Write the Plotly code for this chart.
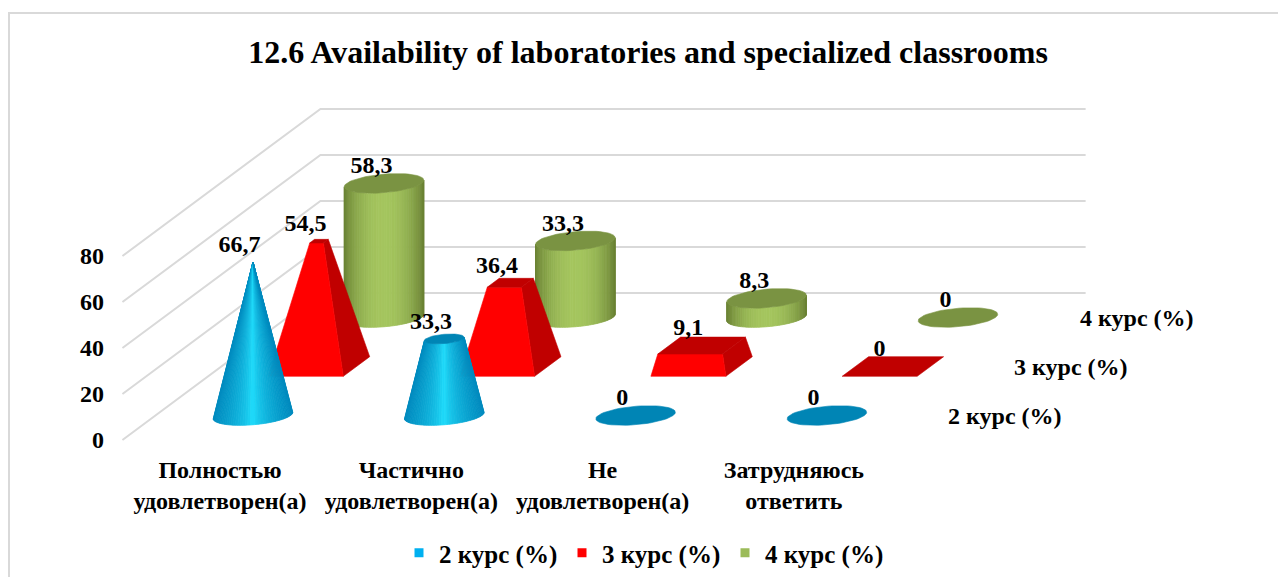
import math
import plotly.graph_objects as go

# ---------- data ----------
categories = ["Полностью<br>удовлетворен(а)", "Частично<br>удовлетворен(а)",
              "Не<br>удовлетворен(а)", "Затрудняюсь<br>ответить"]
series_names = ["2 курс (%)", "3 курс (%)", "4 курс (%)"]
course2 = [66.7, 33.3, 0, 0]
course3 = [54.5, 36.4, 9.1, 0]
course4 = [58.3, 33.3, 8.3, 0]
value_ticks = [0, 20, 40, 60, 80]

# ---------- styling / layout ----------
W, H = 1278, 577
FONT = "Liberation Serif"
GRID = "#d9d9d9"
LABEL_SIZE = 24
L, R, T, B = 120, 1240, 70, 452      # plot area in page pixels
PX_CAT = 191.3       # pixels per category
PX_VAL = 2.3         # pixels per value unit
X0, Y0 = 220, 440    # page pixel of category 0 / value 0
DEPTH_X = 66 / PX_CAT  # oblique depth shift per series, x axis units
DEPTH_Y = 49 / PX_VAL  # oblique depth shift per series, y axis units
BAR_W = 75 / PX_CAT / 2  # half width of a bar
BAR_D = 0.2              # half depth of a bar in series units
TAPER = max(course2 + course3 + course4)
WALL_D = 3.0
STRIPS = 48


def proj(cat, depth, val):
    return cat + depth * DEPTH_X, val + depth * DEPTH_Y


fig = go.Figure()


def poly(pts, color, lw=0.6):
    xs = [p[0] for p in pts] + [pts[0][0]]
    ys = [p[1] for p in pts] + [pts[0][1]]
    fig.add_trace(go.Scatter(x=xs, y=ys, mode="lines", fill="toself", fillcolor=color,
                             line=dict(color=color, width=lw), hoverinfo="skip", showlegend=False))


def mix(c1, c2, t):
    return "rgb(%d,%d,%d)" % tuple(round(a + (b - a) * t) for a, b in zip(c1, c2))


def ring(cat, depth, val, scale, t):
    return proj(cat + BAR_W * scale * math.cos(t), depth + BAR_D * scale * math.sin(t), val)


def round_body(cat, depth, val, taper, edge, mid, top, gamma):
    sc = 1 - val / taper if taper else 1
    # silhouette angles of the oblique circle
    a = math.atan2(BAR_D * DEPTH_X, BAR_W)
    start, end = math.pi + a, 2 * math.pi + a
    if val > 0:
        for i in range(STRIPS):
            t1 = start + (end - start) * i / STRIPS
            t2 = start + (end - start) * (i + 1) / STRIPS
            u = (i + 0.5) / STRIPS
            f = 1 - abs(math.cos(math.pi * u)) ** gamma
            poly([ring(cat, depth, 0, 1, t1), ring(cat, depth, 0, 1, t2),
                  ring(cat, depth, val, sc, t2), ring(cat, depth, val, sc, t1)], mix(edge, mid, f), 0.8)
    if sc > 0.01:
        poly([ring(cat, depth, val, sc, 2 * math.pi * i / 60) for i in range(60)], top)


def pyramid(cat, depth, val, taper, front, side, top):
    sc = 1 - val / taper

    def corner(sx, sd, v, s):
        return proj(cat + sx * BAR_W * s, depth + sd * BAR_D * s, v)
    if val > 0:
        poly([corner(1, -1, 0, 1), corner(1, 1, 0, 1), corner(1, 1, val, sc), corner(1, -1, val, sc)], side)
        poly([corner(-1, -1, 0, 1), corner(1, -1, 0, 1), corner(1, -1, val, sc), corner(-1, -1, val, sc)], front)
    poly([corner(-1, -1, val, sc), corner(1, -1, val, sc), corner(1, 1, val, sc), corner(-1, 1, val, sc)], top)


# walls: gridlines on side wall and back wall
ncat = len(categories)
for v in value_ticks:
    a = proj(-0.51, 0, v)
    b = proj(-0.51, WALL_D, v)
    c = proj(ncat - 0.51, WALL_D, v)
    fig.add_trace(go.Scatter(x=[a[0], b[0], c[0]], y=[a[1], b[1], c[1]], mode="lines",
                             line=dict(color=GRID, width=2), hoverinfo="skip", showlegend=False))

# bodies, back to front
for i in range(ncat):
    round_body(i - 0.005, 2.5, course4[i], 0, (106, 130, 52), (164, 197, 94), "#7a9342", 2.2)
for i in range(ncat):
    pyramid(i, 1.5, course3[i], TAPER, "#ff0000", "#c00000", "#c00000")
for i in range(ncat):
    round_body(i, 0.5, course2[i], TAPER, (0, 138, 190), (34, 226, 255), "#0085b5", 0.65)

# value labels
fmt = lambda v: str(v).replace(".", ",")
for d, vals in zip((2.5, 1.5, 0.5), (course4, course3, course2)):
    pts = [proj(i - 0.07, d, v + 7) for i, v in enumerate(vals)]
    fig.add_trace(go.Scatter(x=[p[0] for p in pts], y=[p[1] for p in pts], mode="text",
                             text=[fmt(v) for v in vals], textposition="middle center",
                             textfont=dict(family=FONT, size=LABEL_SIZE, color="black"),
                             hoverinfo="skip", showlegend=False))

# series (depth axis) labels
for d, name in zip((0.5, 1.5, 2.5), series_names):
    p = proj(3.93, d, -1)
    fig.add_trace(go.Scatter(x=[p[0]], y=[p[1]], mode="text", text=[name], textposition="middle center",
                             textfont=dict(family=FONT, size=LABEL_SIZE, color="black"),
                             hoverinfo="skip", showlegend=False))

# legend entries
for name, col in zip(series_names, ("#00b0f0", "#ff0000", "#9bbb59")):
    fig.add_trace(go.Scatter(x=[None], y=[None], mode="markers", name="<b>%s</b>" % name,
                             marker=dict(symbol="square", size=9, color=col)))

px = lambda p: (p - L) / (R - L)
py = lambda p: (B - p) / (B - T)
fig.add_shape(type="path", xref="paper", yref="paper",
              path="M %f %f L %f %f L %f %f" % (px(9), py(590), px(9), py(13), px(1290), py(13)),
              line=dict(color=GRID, width=2), layer="below")

fig.update_layout(
    width=W, height=H, margin=dict(l=L, r=W - R, t=T, b=H - B, autoexpand=False),
    paper_bgcolor="white", plot_bgcolor="rgba(0,0,0,0)",
    font=dict(family=FONT, size=LABEL_SIZE, color="black"),
    title=dict(text="<b>12.6 Availability of laboratories and specialized classrooms</b>",
               x=648 / W, xanchor="center", y=1 - 52 / H, yanchor="middle",
               font=dict(family=FONT, size=32, color="black")),
    xaxis=dict(range=[(L - X0) / PX_CAT, (R - X0) / PX_CAT], tickmode="array",
               tickvals=list(range(ncat)), ticktext=["<b>%s</b>" % c for c in categories],
               showgrid=False, zeroline=False, showline=False, ticks="", ticklabelstandoff=1,
               tickfont=dict(family=FONT, size=LABEL_SIZE, color="black"), fixedrange=True),
    yaxis=dict(range=[(Y0 - B) / PX_VAL, (Y0 - T) / PX_VAL], tickmode="array",
               tickvals=value_ticks, ticktext=["<b>%d</b>" % v for v in value_ticks],
               showgrid=False, zeroline=False, showline=False, ticks="", ticklabelstandoff=15,
               tickfont=dict(family=FONT, size=LABEL_SIZE, color="black"), fixedrange=True),
    legend=dict(orientation="h", x=399 / W, xanchor="left", xref="container",
                y=1 - 553 / H, yanchor="middle", yref="container",
                font=dict(family=FONT, size=25, color="black"),
                bgcolor="rgba(0,0,0,0)", entrywidthmode="pixels", entrywidth=118),
    showlegend=True,
)
fig.update_traces(selector=dict(mode="text"),
                  texttemplate="<b>%{text}</b>")

fig.write_html("out.html", post_script="document.body.style.margin='0';", config={"displayModeBar": False})
